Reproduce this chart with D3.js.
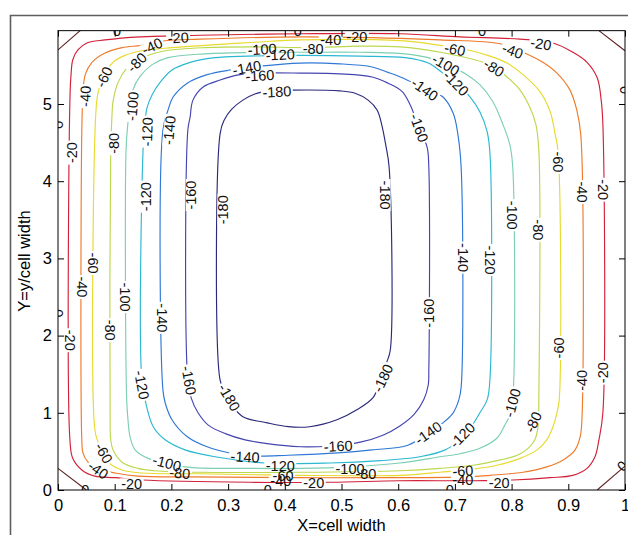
<!DOCTYPE html>
<html><head><meta charset="utf-8">
<script src="https://cdn.jsdelivr.net/npm/d3@7"></script>
<style>
html,body{margin:0;padding:0;background:#fff;}
svg{display:block;font-family:"Liberation Sans",Arial,Helvetica,sans-serif;}
</style></head><body>
<svg id="chart" width="628" height="535"></svg>
<script>
// ---------------- data ----------------
const xTicks = [0,0.1,0.2,0.3,0.4,0.5,0.6,0.7,0.8,0.9,1];
const yTicks = [0,1,2,3,4,5];
const xDomain = [0,1];
const yDomain = [0,5.95];
const levels = [0,-20,-40,-60,-80,-100,-120,-140,-160,-180];

const c20 = [[0.021,0.65],[0.021,5.05],[0.023,5.38],[0.026,5.57],[0.035,5.70],[0.051,5.79],[0.083,5.83],[0.145,5.87],[0.250,5.89],[0.427,5.91],[0.603,5.91],[0.709,5.87],[0.815,5.84],[0.873,5.79],[0.908,5.67],[0.933,5.54],[0.951,5.34],[0.958,5.05],[0.961,4.73],[0.961,1.00],[0.954,0.65],[0.947,0.43],[0.933,0.28],[0.908,0.19],[0.868,0.16],[0.802,0.13],[0.727,0.12],[0.603,0.12],[0.480,0.10],[0.339,0.10],[0.148,0.13],[0.101,0.16],[0.065,0.18],[0.042,0.26],[0.026,0.41]];
const c40 = [[0.042,0.65],[0.042,4.66],[0.044,5.12],[0.048,5.38],[0.060,5.54],[0.083,5.66],[0.113,5.73],[0.148,5.76],[0.189,5.82],[0.250,5.84],[0.427,5.87],[0.603,5.85],[0.674,5.83],[0.780,5.78],[0.820,5.67],[0.855,5.54],[0.880,5.40],[0.903,5.18],[0.915,4.92],[0.922,4.60],[0.924,0.91],[0.921,0.69],[0.912,0.52],[0.891,0.39],[0.862,0.30],[0.820,0.23],[0.762,0.19],[0.721,0.17],[0.603,0.16],[0.427,0.16],[0.233,0.17],[0.141,0.18],[0.101,0.22],[0.078,0.26],[0.053,0.36],[0.044,0.48]];
const c60 = [[0.065,0.78],[0.067,4.92],[0.071,5.16],[0.079,5.34],[0.097,5.54],[0.118,5.63],[0.148,5.69],[0.201,5.73],[0.259,5.76],[0.347,5.80],[0.427,5.83],[0.603,5.82],[0.674,5.76],[0.718,5.71],[0.762,5.62],[0.792,5.53],[0.820,5.38],[0.850,5.16],[0.868,4.90],[0.877,4.60],[0.882,4.38],[0.884,1.17],[0.880,1.00],[0.873,0.82],[0.862,0.65],[0.845,0.52],[0.815,0.41],[0.774,0.32],[0.732,0.27],[0.674,0.23],[0.603,0.19],[0.427,0.19],[0.250,0.21],[0.148,0.22],[0.113,0.26],[0.095,0.32],[0.078,0.45],[0.071,0.61]];
const c80 = [[0.092,0.78],[0.093,4.40],[0.095,4.82],[0.097,5.03],[0.106,5.28],[0.122,5.47],[0.139,5.57],[0.159,5.63],[0.189,5.69],[0.259,5.73],[0.347,5.74],[0.444,5.73],[0.533,5.75],[0.603,5.74],[0.674,5.67],[0.750,5.54],[0.771,5.47],[0.792,5.35],[0.815,5.18],[0.832,4.96],[0.843,4.73],[0.848,4.40],[0.848,1.17],[0.847,0.84],[0.841,0.65],[0.829,0.54],[0.810,0.45],[0.780,0.39],[0.732,0.32],[0.674,0.28],[0.603,0.25],[0.427,0.23],[0.250,0.23],[0.171,0.25],[0.141,0.28],[0.113,0.36],[0.097,0.52],[0.093,0.65]];
const c100 = [[0.121,1.20],[0.120,4.40],[0.123,4.73],[0.132,5.18],[0.145,5.36],[0.166,5.51],[0.194,5.60],[0.259,5.65],[0.347,5.67],[0.427,5.67],[0.533,5.67],[0.612,5.65],[0.653,5.60],[0.686,5.51],[0.721,5.38],[0.744,5.25],[0.767,5.03],[0.785,4.73],[0.797,4.47],[0.802,4.18],[0.802,1.17],[0.797,0.97],[0.788,0.84],[0.774,0.67],[0.744,0.54],[0.709,0.47],[0.674,0.43],[0.603,0.35],[0.515,0.30],[0.427,0.28],[0.339,0.28],[0.224,0.30],[0.159,0.41],[0.136,0.52],[0.127,0.69],[0.123,0.95]];
const c120 = [[0.148,1.42],[0.150,4.40],[0.153,4.73],[0.157,4.95],[0.166,5.12],[0.180,5.28],[0.201,5.44],[0.229,5.53],[0.277,5.60],[0.335,5.62],[0.427,5.63],[0.533,5.62],[0.612,5.60],[0.653,5.53],[0.677,5.41],[0.705,5.25],[0.727,5.09],[0.744,4.90],[0.757,4.64],[0.762,4.34],[0.762,1.46],[0.757,1.17],[0.744,1.00],[0.727,0.80],[0.705,0.63],[0.683,0.52],[0.638,0.43],[0.568,0.38],[0.480,0.35],[0.365,0.35],[0.277,0.43],[0.224,0.52],[0.189,0.65],[0.168,0.82],[0.157,1.06]];
const c140 = [[0.185,1.30],[0.185,4.66],[0.194,4.92],[0.203,5.09],[0.228,5.27],[0.263,5.38],[0.303,5.44],[0.356,5.49],[0.427,5.53],[0.497,5.52],[0.554,5.48],[0.582,5.41],[0.607,5.34],[0.644,5.21],[0.679,5.09],[0.697,4.88],[0.705,4.62],[0.711,4.18],[0.711,1.33],[0.707,1.17],[0.697,1.00],[0.679,0.87],[0.653,0.74],[0.617,0.58],[0.554,0.52],[0.494,0.48],[0.406,0.45],[0.347,0.44],[0.303,0.48],[0.263,0.56],[0.228,0.69],[0.201,0.91],[0.189,1.13]];
const c160 = [[0.229,1.42],[0.229,4.66],[0.233,4.83],[0.238,5.05],[0.256,5.22],[0.286,5.31],[0.321,5.38],[0.356,5.40],[0.427,5.40],[0.497,5.39],[0.554,5.35],[0.582,5.27],[0.607,5.16],[0.621,4.99],[0.635,4.73],[0.651,4.44],[0.654,4.18],[0.654,1.55],[0.653,1.36],[0.645,1.17],[0.628,0.98],[0.603,0.83],[0.573,0.71],[0.533,0.62],[0.480,0.57],[0.427,0.56],[0.369,0.60],[0.330,0.65],[0.295,0.73],[0.265,0.84],[0.247,1.00],[0.235,1.19]];
const c180 = [[0.286,1.42],[0.286,4.62],[0.293,4.79],[0.306,4.93],[0.326,5.05],[0.347,5.13],[0.374,5.17],[0.414,5.18],[0.497,5.17],[0.524,5.14],[0.547,5.05],[0.563,4.92],[0.571,4.73],[0.578,4.47],[0.584,4.18],[0.586,1.81],[0.580,1.66],[0.568,1.42],[0.556,1.20],[0.527,1.04],[0.492,0.91],[0.444,0.82],[0.406,0.82],[0.369,0.87],[0.326,0.95],[0.307,1.10],[0.293,1.30]];
const zeroLines = [[[0,5.70],[0.039,5.95]],[[0.954,5.95],[1,5.69]],[[0,0.28],[0.05,0]],[[0.951,0],[1,0.31]]];

// contour labels: [level, x, y, angle]
const labels = [
 [-20,0.212,5.86,-3],[-40,0.166,5.75,-25],[-60,0.081,5.35,-65],[-80,0.139,5.54,-45],
 [-100,0.131,4.97,-85],[-120,0.157,4.64,-88],[-120,0.155,3.80,-90],[-140,0.196,4.66,-85],
 [-80,0.099,4.49,-90],[-40,0.048,5.10,-88],[-20,0.025,4.37,-90],[-160,0.235,3.82,-90],
 [-180,0.291,3.63,-90],[-140,0.333,5.47,-10],[-160,0.356,5.37,-3],[-180,0.386,5.16,-3],
 [-100,0.360,5.71,-3],[-120,0.392,5.64,-3],[-80,0.450,5.72,0],[-40,0.481,5.83,0],
 [-20,0.527,5.87,0],[-60,0.700,5.71,12],[-100,0.684,5.51,30],[-120,0.702,5.27,45],
 [-80,0.769,5.47,32],[-40,0.802,5.69,20],[-20,0.852,5.78,10],[-140,0.647,5.19,35],
 [-160,0.637,4.69,70],[-180,0.577,3.82,90],[-140,0.714,3.01,90],[-120,0.762,2.98,90],
 [-100,0.802,3.56,90],[-80,0.847,3.37,90],[-60,0.882,4.25,90],[-40,0.924,3.86,90],
 [-20,0.961,3.89,90],[-160,0.654,2.29,-90],[-60,0.884,1.84,-90],[-40,0.924,1.42,-90],
 [-20,0.961,1.52,-90],[-100,0.801,1.13,-75],[-80,0.838,0.88,-65],[-120,0.713,0.71,-45],
 [-140,0.653,0.74,-35],[-180,0.573,1.45,-65],[-160,0.494,0.57,-3],[-60,0.714,0.25,-3],
 [-40,0.714,0.13,0],[-20,0.778,0.10,0],[-20,0.451,0.09,0],[-100,0.515,0.27,0],
 [-80,0.543,0.21,0],[-120,0.392,0.31,0],[-60,0.397,0.18,0],[-40,0.393,0.12,0],
 [-140,0.330,0.43,3],[-100,0.192,0.35,15],[-80,0.215,0.22,5],[-60,0.081,0.48,60],
 [-40,0.071,0.26,35],[-20,0.130,0.08,0],[-20,0.021,1.94,90],[-40,0.042,2.63,90],
 [-60,0.063,2.94,90],[-80,0.092,2.07,90],[-100,0.118,2.50,90],[-120,0.148,1.36,80],
 [-140,0.183,2.23,90],[-160,0.231,1.42,80],[-180,0.302,1.20,60]
];
// "0" labels sitting on the boundary: [x, y, angle]
const zeroLabels = [[0.104,5.95,0],[0.423,5.95,0],[0.748,5.95,0],[0,4.73,90],[0,2.29,90],[1,5.18,90],[0.048,0,0],[0.370,0,0],[0.691,0,0],[0.995,0.31,-45]];

const xTitle = "X=cell width";
const yTitle = "Y=y/cell width";

// ---------------- drawing ----------------
const contours = new Map([[-20,c20],[-40,c40],[-60,c60],[-80,c80],[-100,c100],[-120,c120],[-140,c140],[-160,c160],[-180,c180]]);
const color = d3.scaleOrdinal().domain(levels)
  .range(["#5a1c1c","#d2213a","#ef7a2a","#e8da2e","#bcd84e","#7ccfb2","#2bb8d2","#2f78d6","#4444b0","#2a2a7c"]);

const svg = d3.select("#chart");
const X0=58, X1=625, Y0=490, Y1=30.66;
const x = d3.scaleLinear().domain(xDomain).range([X0,X1]);
const y = d3.scaleLinear().domain(yDomain).range([Y0,Y1]);

// figure frame
svg.append("path").attr("d","M10.5,535 V15.5 H628").attr("fill","none").attr("stroke","#5e5e5e").attr("stroke-width",1.6);

const defs = svg.append("defs");
defs.append("clipPath").attr("id","plotclip").append("rect")
  .attr("x",X0).attr("y",Y1).attr("width",X1-X0).attr("height",Y0-Y1);

const labelFont = 14.5;
const meas = svg.append("text").attr("font-size",labelFont).attr("visibility","hidden");
function textW(s){ meas.text(s); return meas.node().getComputedTextLength(); }

for (const lv of contours.keys()){
  const m = defs.append("mask").attr("id","mask"+(-lv)).attr("maskUnits","userSpaceOnUse")
    .attr("x",0).attr("y",0).attr("width",628).attr("height",535);
  m.append("rect").attr("x",0).attr("y",0).attr("width",628).attr("height",535).attr("fill","#fff");
  labels.filter(l=>l[0]===lv).forEach(l=>{
    const w = textW(String(l[0]))+3;
    m.append("rect").attr("x",-w/2).attr("y",-5.5).attr("width",w).attr("height",11).attr("fill","#000")
      .attr("transform",`translate(${x(l[1])},${y(l[2])}) rotate(${l[3]})`);
  });
}

const plot = svg.append("g").attr("clip-path","url(#plotclip)");
const lineClosed = d3.line().x(d=>x(d[0])).y(d=>y(d[1])).curve(d3.curveCatmullRomClosed.alpha(0.5));
const lineOpen = d3.line().x(d=>x(d[0])).y(d=>y(d[1]));

zeroLines.forEach(seg=>{
  plot.append("path").attr("d",lineOpen(seg)).attr("fill","none")
    .attr("stroke",color(0)).attr("stroke-width",1.1);
});
for (const [lv,pts] of contours){
  plot.append("g").attr("mask",`url(#mask${-lv})`)
    .append("path").attr("d",lineClosed(pts)).attr("fill","none")
    .attr("stroke",color(lv)).attr("stroke-width",1.15);
}

const lab = plot.append("g").attr("font-size",labelFont).attr("fill","#111").attr("text-anchor","middle");
labels.forEach(l=>{
  lab.append("text").attr("transform",`translate(${x(l[1])},${y(l[2])}) rotate(${l[3]})`)
    .attr("dy","0.36em").text(String(l[0]));
});
zeroLabels.forEach(l=>{
  lab.append("text").attr("transform",`translate(${x(l[0])},${y(l[1])}) rotate(${l[2]})`)
    .attr("dy","0.36em").text("0");
});

const tickFont = 16.5;
const fmtX = d=> d===0?"0":(d===1?"1":d3.format(".1f")(d));
const gx = svg.append("g").attr("transform",`translate(0,${Y0})`)
  .call(d3.axisBottom(x).tickValues(xTicks).tickSize(-6).tickPadding(9).tickFormat(fmtX));
const gy = svg.append("g").attr("transform",`translate(${X0},0)`)
  .call(d3.axisLeft(y).tickValues(yTicks).tickSize(-6).tickPadding(6).tickFormat(d3.format("d")));
const gxt = svg.append("g").attr("transform",`translate(0,${Y1})`)
  .call(d3.axisTop(x).tickValues(xTicks).tickSize(-6).tickFormat(""));
const gyr = svg.append("g").attr("transform",`translate(${X1},0)`)
  .call(d3.axisRight(y).tickValues(yTicks).tickSize(-6).tickFormat(""));
[gx,gy,gxt,gyr].forEach(g=>{
  g.select(".domain").remove();
  g.attr("font-size",tickFont).attr("font-family",null);
  g.selectAll("line").attr("stroke","#000");
  g.selectAll("text").attr("fill","#000");
});
svg.append("rect").attr("x",X0).attr("y",Y1).attr("width",X1-X0).attr("height",Y0-Y1)
  .attr("fill","none").attr("stroke","#000").attr("stroke-width",1);

svg.append("text").attr("x",(X0+X1)/2).attr("y",531).attr("text-anchor","middle")
  .attr("font-size",16.5).attr("fill","#000").text(xTitle);
svg.append("text").attr("transform","translate(30,261) rotate(-90)").attr("text-anchor","middle")
  .attr("font-size",16.5).attr("fill","#000").text(yTitle);
meas.remove();
</script>
</body></html>
